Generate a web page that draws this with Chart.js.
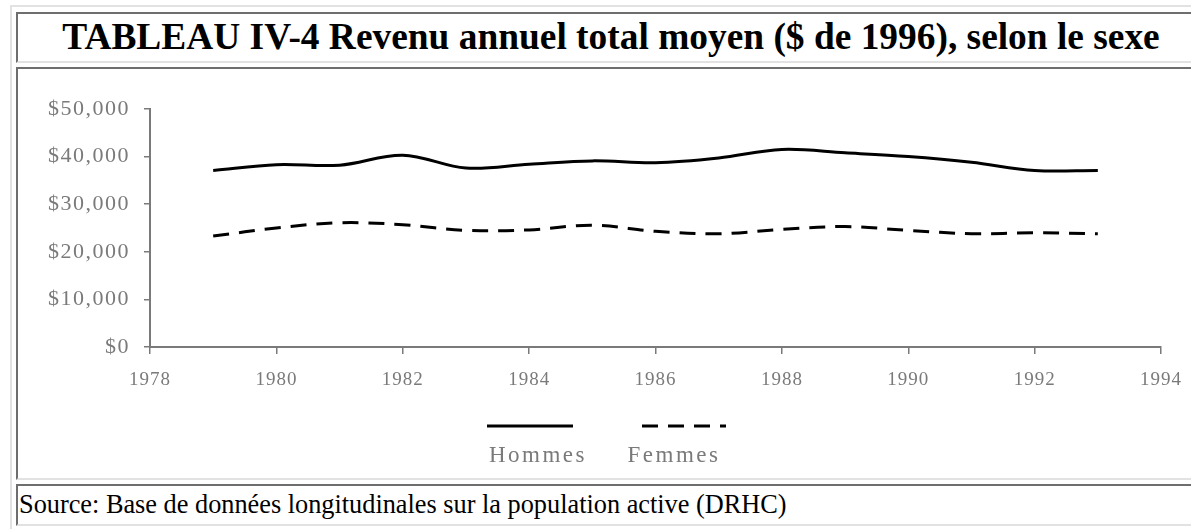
<!DOCTYPE html>
<html>
<head>
<meta charset="utf-8">
<script src="https://cdn.jsdelivr.net/npm/chart.js@4.4.1/dist/chart.umd.min.js"></script>
<style>
  html, body { margin: 0; padding: 0; overflow: hidden; background: #fff; width: 1191px; height: 529px; }
  .outer { position: absolute; left: 10px; top: 5px; width: 1204px; height: 540px;
    border: 2px solid; border-color: #e2e2e2 #6e6e6e #6e6e6e #e2e2e2; box-sizing: border-box; }
  .cell { position: absolute; left: 16px; width: 1190px; box-sizing: border-box;
    border: 2px solid; border-color: #6e6e6e #e2e2e2 #e2e2e2 #6e6e6e; }
  #title { top: 12px; height: 51px; font: bold 37.4px "Liberation Serif", serif; text-align: center;
    line-height: 46px; color: #000; white-space: nowrap; }
  #chartcell { top: 67px; height: 413px; }
  #source { top: 484px; height: 42px; font: 26.3px "Liberation Serif", serif; line-height: 38px;
    padding-left: 1px; color: #000; white-space: nowrap; }
  #wrap { position: absolute; left: 0; top: 0; width: 1186px; height: 409px; }
</style>
</head>
<body>
<div class="outer"></div>
<div class="cell" id="title">TABLEAU IV-4 Revenu annuel total moyen ($ de 1996), selon le sexe</div>
<div class="cell" id="chartcell"><div id="wrap"><canvas id="c" width="1186" height="409"></canvas></div></div>
<div class="cell" id="source">Source: Base de données longitudinales sur la population active (DRHC)</div>
<script>
// ---- data ----
const years = [1979, 1980, 1981, 1982, 1983, 1984, 1985, 1986, 1987, 1988, 1989, 1990, 1991, 1992, 1993];
const hommes = [37100, 38300, 38200, 40300, 37600, 38400, 39100, 38700, 39700, 41500, 40800, 40000, 38800, 37100, 37100];
const femmes = [23300, 25000, 26100, 25700, 24500, 24600, 25600, 24300, 23800, 24700, 25300, 24500, 23800, 24000, 23800];
const seriesNames = ['Hommes', 'Femmes'];
const xTickYears = [1978, 1980, 1982, 1984, 1986, 1988, 1990, 1992, 1994];
const yTickValues = [0, 10000, 20000, 30000, 40000, 50000];

const toPts = arr => years.map((y, i) => ({ x: y, y: arr[i] }));
const AXIS = '#7a7a7a';
const TEXT = '#7a7a7a';

const spacingPlugin = {
  id: 'spacing',
  beforeDraw(chart) {
    [['x', '1px'], ['y', '1.5px']].forEach(([id, sp]) => {
      const s = chart.scales[id];
      if (s && !s._spWrapped) {
        const orig = s.drawLabels.bind(s);
        s.drawLabels = function (ca) {
          const ctx = this.ctx; ctx.save();
          try { ctx.letterSpacing = sp; } catch (e) {}
          orig(ca); ctx.restore();
        };
        s._spWrapped = true;
      }
    });
  }
};

const legendPlugin = {
  id: 'bottomLegend',
  afterDraw(chart) {
    const ctx = chart.ctx;
    const centers = [512, 664];
    const halfLen = [43, 40];
    const lineY = 357, textY = 387;
    chart.data.datasets.forEach((ds, i) => {
      ctx.save();
      ctx.strokeStyle = ds.borderColor;
      ctx.lineWidth = 3;
      ctx.setLineDash(ds.borderDash || []);
      ctx.beginPath();
      ctx.moveTo(centers[i] - halfLen[i], lineY);
      ctx.lineTo(centers[i] + halfLen[i] + (ds.borderDash ? 4 : 0), lineY);
      ctx.stroke();
      ctx.setLineDash([]);
      try { ctx.letterSpacing = '2.5px'; } catch (e) {}
      ctx.fillStyle = TEXT;
      ctx.font = '23px "Liberation Serif"';
      ctx.textAlign = 'center';
      ctx.textBaseline = 'middle';
      ctx.fillText(ds.label, centers[i] + (i === 0 ? 8 : -8), textY);
      ctx.restore();
    });
  }
};

new Chart(document.getElementById('c'), {
  type: 'line',
  data: {
    datasets: [
      { label: seriesNames[0], data: toPts(hommes), borderColor: '#000', borderWidth: 3,
        pointRadius: 0, tension: 0.35, fill: false },
      { label: seriesNames[1], data: toPts(femmes), borderColor: '#000', borderWidth: 3,
        borderDash: [16, 10], pointRadius: 0, tension: 0.35, fill: false }
    ]
  },
  options: {
    responsive: false,
    animation: false,
    events: [],
    layout: { padding: { left: 0, top: 40, right: 43, bottom: 91 } },
    plugins: { legend: { display: false }, tooltip: { enabled: false } },
    scales: {
      x: {
        type: 'linear', min: xTickYears[0], max: xTickYears[xTickYears.length - 1],
        afterBuildTicks: s => { s.ticks = xTickYears.map(v => ({ value: v })); },
        afterFit: s => { s.height = 40; },
        ticks: { callback: v => String(v), color: TEXT, padding: 15, maxRotation: 0,
          font: { family: 'Liberation Serif', size: 19 } },
        grid: { drawOnChartArea: false, drawTicks: true, tickLength: 7, color: AXIS, lineWidth: 1.5 },
        border: { color: AXIS, width: 2 }
      },
      y: {
        min: yTickValues[0], max: yTickValues[yTickValues.length - 1],
        afterBuildTicks: s => { s.ticks = yTickValues.map(v => ({ value: v })); },
        afterFit: s => { s.width = 132; },
        ticks: { callback: v => '$' + v.toLocaleString('en-US'), color: TEXT, padding: 14,
          font: { family: 'Liberation Serif', size: 22 } },
        grid: { drawOnChartArea: false, drawTicks: true, tickLength: 6, color: AXIS, lineWidth: 1.5 },
        border: { color: AXIS, width: 2 }
      }
    }
  },
  plugins: [spacingPlugin, legendPlugin]
});
</script>
</body>
</html>
